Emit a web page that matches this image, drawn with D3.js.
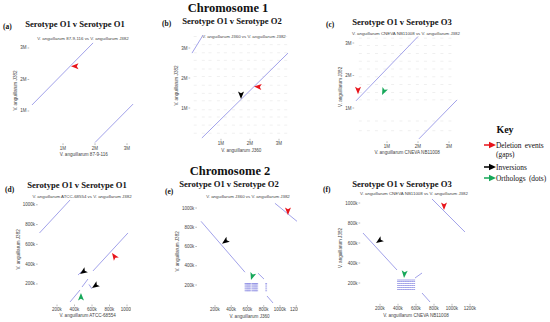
<!DOCTYPE html>
<html>
<head>
<meta charset="utf-8">
<script src="https://cdn.jsdelivr.net/npm/d3@7"></script>
<style>
  body { margin: 0; background: #fff; }
  svg { display: block; }
  .serif { font-family: "Liberation Serif", "DejaVu Serif", serif; fill: #111; }
  .sans { font-family: "Liberation Sans", Arial, sans-serif; fill: #444; }
</style>
</head>
<body>
<svg id="chart" width="550" height="322"></svg>
<script>
// all genome positions in kb
const chr1Ticks = [1000, 2000, 3000];
const chr2Ticks = [200, 400, 600, 800, 1000, 1200];
const chr2YTicks = [200, 400, 600, 800, 1000];

const panelIds = ['a', 'b', 'c', 'd', 'e', 'f'];
const panelTitles = [
  'Serotype O1 v Serotype O1', 'Serotype O1 v Serotype O2', 'Serotype O1 v Serotype O3',
  'Serotype O1 v Serotype O1', 'Serotype O1 v Serotype O2', 'Serotype O1 v Serotype O3'
];
const queryNames = [
  'V. anguillarum 87-9-116', 'V. anguillarum J360', 'V. anguillarum CNEVA NB11008',
  'V. anguillarum ATCC-68554', 'V. anguillarum J360', 'V. anguillarum CNEVA NB11008'
];
const refName = 'V. anguillarum J382';

// alignment segments [x1, y1, x2, y2]
const segA = [[30, 1190, 1940, 3160], [2000, 0, 3190, 1220]];
const segB = [[340, 0, 3310, 2830], [0, 2830, 380, 3430]];
const segC = [[0, 1220, 2000, 3200], [2030, 50, 3260, 1250]];
const segD = [[0, 715, 349, 1048], [611, 331, 1011, 715], [349, 18, 463, 139],
              [486, 169, 554, 250], [440, 290, 480, 325], [565, 195, 600, 150]];
const segE = [[28, 862, 569, 333], [938, 1049, 1209, 862], [729, 323, 803, 262], [840, 86, 914, 13]];
const segF = [[11, 700, 389, 330], [778, 1040, 1144, 710], [589, 250, 667, 300], [667, 100, 756, 10]];

// repeat clusters (orthologous dot blocks)
const clusterEX = [575, 590, 605, 620, 635, 660, 675, 690, 705, 720, 830];
const clusterEY = [140, 160, 180, 200, 215];
const clusterFX = [400, 420, 440, 460, 480, 500, 520, 540, 560, 580];
const clusterFY = [135, 155, 175, 195, 215, 230];

// faint background hits
const bgBX = [110, 390, 620, 910, 1150, 1430, 1690, 1950, 2180, 2470, 2730, 2990, 3230];
const bgBY = [160, 430, 700, 940, 1240, 1490, 1760, 2050, 2300, 2590, 2840, 3110, 3380];
const bgCX = [140, 400, 660, 930, 1180, 1450, 1720, 1980, 2240, 2510, 2770, 3030];
const bgCY = [1250, 1480, 1720, 1960, 2200, 2440, 2680, 2920, 3150, 600, 300];

// annotation arrows: tip position (kb), pointing angle (deg)
const markA = [{x: 1250, y: 2420, dir: 180, type: 'del'}];
const markB = [{x: 2140, y: 1720, dir: 185, type: 'del'}, {x: 1690, y: 1300, dir: 90, type: 'inv'}];
const markC = [{x: 65, y: 1420, dir: 90, type: 'del'}, {x: 840, y: 1400, dir: 115, type: 'orth'}];
const markD = [{x: 463, y: 300, dir: 145, type: 'inv'}, {x: 600, y: 159, dir: 145, type: 'inv'},
               {x: 829, y: 513, dir: -125, type: 'del'}, {x: 474, y: 109, dir: -90, type: 'orth'}];
const markE = [{x: 1098, y: 927, dir: 90, type: 'del'}, {x: 286, y: 630, dir: 145, type: 'inv'},
               {x: 643, y: 252, dir: 108, type: 'orth'}];
const markF = [{x: 911, y: 930, dir: 90, type: 'del'}, {x: 156, y: 600, dir: 145, type: 'inv'},
               {x: 467, y: 250, dir: 95, type: 'orth'}];

const legendTypes = ['del', 'inv', 'orth'];
const legendLines = [['Deletion events', '(gaps)'], ['Inversions'], ['Orthologs (dots)']];

const colors = {del: '#e8141b', inv: '#000000', orth: '#17a85a'};
const hitColor = '#a2a2ea';

// layout, pixel space
const layout = [
  {xMax: 3300, xr: [31, 136.6], yMax: 3300, yr: [142.5, 38.5], title: [75, 27], sub: [83, 39.5], lab: [3, 29], clip: null},
  {xMax: 3400, xr: [192, 290.6], yMax: 3500, yr: [138, 33], title: [232, 24], sub: [244, 38], lab: [162, 26], clip: null},
  {xMax: 3300, xr: [356, 458.3], yMax: 3300, yr: [140.5, 33.25], title: [402, 25], sub: [406, 34.5], lab: [326, 27], clip: null},
  {xMax: 1100, xr: [39.5, 135.75], yMax: 1100, yr: [303.75, 194.85], title: [77, 188], sub: [82, 197.5], lab: [5, 192], clip: 131},
  {xMax: 1250, xr: [198.75, 300.3], yMax: 1100, yr: [304.25, 198.4], title: [229, 187], sub: [248, 197.5], lab: [165, 194], clip: 298},
  {xMax: 1200, xr: [362, 470], yMax: 1100, yr: [303, 193], title: [402, 187], sub: [414, 194.5], lab: [323, 192], clip: null}
];

const segs = [segA, segB, segC, segD, segE, segF];
const marks = [markA, markB, markC, markD, markE, markF];

const svg = d3.select('#chart');

// arrowhead pointing right, tip at origin
const arrowPath = 'M0,0 L-7.5,-3 L-5.8,0 L-7.5,3 Z';
const legendArrow = 'M0,0 L-7,-3.2 L-7,-0.7 L-12,-0.7 L-12,0.7 L-7,0.7 L-7,3.2 Z';

svg.append('text').attr('class', 'serif')
  .attr('x', 228).attr('y', 12).attr('text-anchor', 'middle')
  .attr('font-size', 12.5).attr('font-weight', 'bold')
  .text('Chromosome 1');
svg.append('text').attr('class', 'serif')
  .attr('x', 230).attr('y', 175).attr('text-anchor', 'middle')
  .attr('font-size', 12.5).attr('font-weight', 'bold')
  .text('Chromosome 2');

layout.forEach((L, i) => {
  const chr1 = i < 3;
  const x = d3.scaleLinear().domain([0, L.xMax]).range(L.xr);
  const y = d3.scaleLinear().domain([0, L.yMax]).range(L.yr);
  const g = svg.append('g').attr('class', 'panel panel-' + panelIds[i]);
  const fmt = chr1 ? (v => (v / 1000) + 'M') : (v => v + 'k');

  g.append('text').attr('class', 'serif')
    .attr('x', L.lab[0]).attr('y', L.lab[1])
    .attr('font-size', 7.5).attr('font-weight', 'bold')
    .text('(' + panelIds[i] + ')');
  g.append('text').attr('class', 'serif')
    .attr('x', L.title[0]).attr('y', L.title[1]).attr('text-anchor', 'middle')
    .attr('font-size', 8.6).attr('font-weight', 'bold')
    .text(panelTitles[i]);
  g.append('text').attr('class', 'sans')
    .attr('x', L.sub[0]).attr('y', L.sub[1]).attr('text-anchor', 'middle')
    .attr('font-size', 4.4)
    .text(queryNames[i] + ' vs ' + refName);

  // background hits
  const bgX = i === 1 ? bgBX : i === 2 ? bgCX : [];
  const bgY = i === 1 ? bgBY : i === 2 ? bgCY : [];
  const bg = d3.cross(bgX, bgY);
  g.append('g').selectAll('rect').data(bg).join('rect')
    .attr('x', d => x(d[0]) - 1.5).attr('y', d => y(d[1]) - 0.4)
    .attr('width', 3).attr('height', 0.8)
    .attr('fill', '#d4d4d4').attr('opacity', 0.45);

  // repeat clusters
  const cl = i === 4 ? d3.cross(clusterEX, clusterEY) : i === 5 ? d3.cross(clusterFX, clusterFY) : [];
  g.append('g').selectAll('rect').data(cl).join('rect')
    .attr('x', d => x(d[0]) - 0.9).attr('y', d => y(d[1]) - 0.45)
    .attr('width', 1.8).attr('height', 0.9)
    .attr('fill', '#8080e0').attr('opacity', 0.8);

  // alignment segments
  g.append('g').selectAll('line').data(segs[i]).join('line')
    .attr('x1', d => x(d[0])).attr('y1', d => y(d[1]))
    .attr('x2', d => x(d[2])).attr('y2', d => y(d[3]))
    .attr('stroke', hitColor).attr('stroke-width', 1);

  // y ticks
  const yt = chr1 ? chr1Ticks : chr2YTicks;
  const yg = g.append('g');
  yg.selectAll('line').data(yt).join('line')
    .attr('x1', L.xr[0] - 3.5).attr('x2', L.xr[0] - 1.8)
    .attr('y1', d => y(d)).attr('y2', d => y(d))
    .attr('stroke', '#777').attr('stroke-width', 0.5);
  yg.selectAll('text').data(yt).join('text').attr('class', 'sans')
    .attr('x', L.xr[0] - 4.5).attr('y', d => y(d) + 1.5)
    .attr('text-anchor', 'end').attr('font-size', 4.5)
    .text(fmt);

  // x ticks
  const xt = (chr1 ? chr1Ticks : chr2Ticks).filter(v => v <= L.xMax);
  let xg = g.append('g');
  if (L.clip) {
    const cid = 'clip-' + panelIds[i];
    svg.append('clipPath').attr('id', cid).append('rect')
      .attr('x', L.xr[0] - 20).attr('y', L.yr[0]).attr('width', L.clip - L.xr[0] + 20).attr('height', 20);
    xg.attr('clip-path', 'url(#' + cid + ')');
  }
  xg.selectAll('line').data(xt).join('line')
    .attr('x1', d => x(d)).attr('x2', d => x(d))
    .attr('y1', L.yr[0] + 0.8).attr('y2', L.yr[0] + 2.5)
    .attr('stroke', '#777').attr('stroke-width', 0.5);
  xg.selectAll('text').data(xt).join('text').attr('class', 'sans')
    .attr('x', d => x(d)).attr('y', L.yr[0] + 7)
    .attr('text-anchor', 'middle').attr('font-size', 4.5)
    .text(fmt);

  // axis names
  g.append('text').attr('class', 'sans')
    .attr('x', (L.xr[0] + L.xr[1]) / 2).attr('y', L.yr[0] + 13.5)
    .attr('text-anchor', 'middle').attr('font-size', 4.6)
    .text(queryNames[i]);
  const yx = L.xr[0] - (chr1 ? 14 : 20);
  const ym = (L.yr[0] + L.yr[1]) / 2;
  g.append('text').attr('class', 'sans')
    .attr('transform', `translate(${yx},${ym}) rotate(-90)`)
    .attr('text-anchor', 'middle').attr('font-size', 4.6)
    .text(refName);

  // annotation arrows
  g.append('g').selectAll('path').data(marks[i]).join('path')
    .attr('d', arrowPath)
    .attr('transform', d => `translate(${x(d.x)},${y(d.y)}) rotate(${d.dir})`)
    .attr('fill', d => colors[d.type]);
});

// key
const key = svg.append('g').attr('class', 'key');
key.append('text').attr('class', 'serif')
  .attr('x', 505).attr('y', 133).attr('text-anchor', 'middle')
  .attr('font-size', 10).attr('font-weight', 'bold').style('fill', '#111')
  .text('Key');
const keyY = [145, 167, 178];
legendTypes.forEach((t, i) => {
  key.append('path').attr('d', legendArrow)
    .attr('transform', `translate(496,${keyY[i]})`)
    .attr('fill', colors[t]);
  legendLines[i].forEach((s, j) => {
    key.append('text').attr('class', 'serif')
      .attr('x', 496).attr('y', keyY[i] + 2.5 + j * 9.5)
      .attr('font-size', 7.4).attr('word-spacing', 1.5)
      .text(s);
  });
});
</script>
</body>
</html>
